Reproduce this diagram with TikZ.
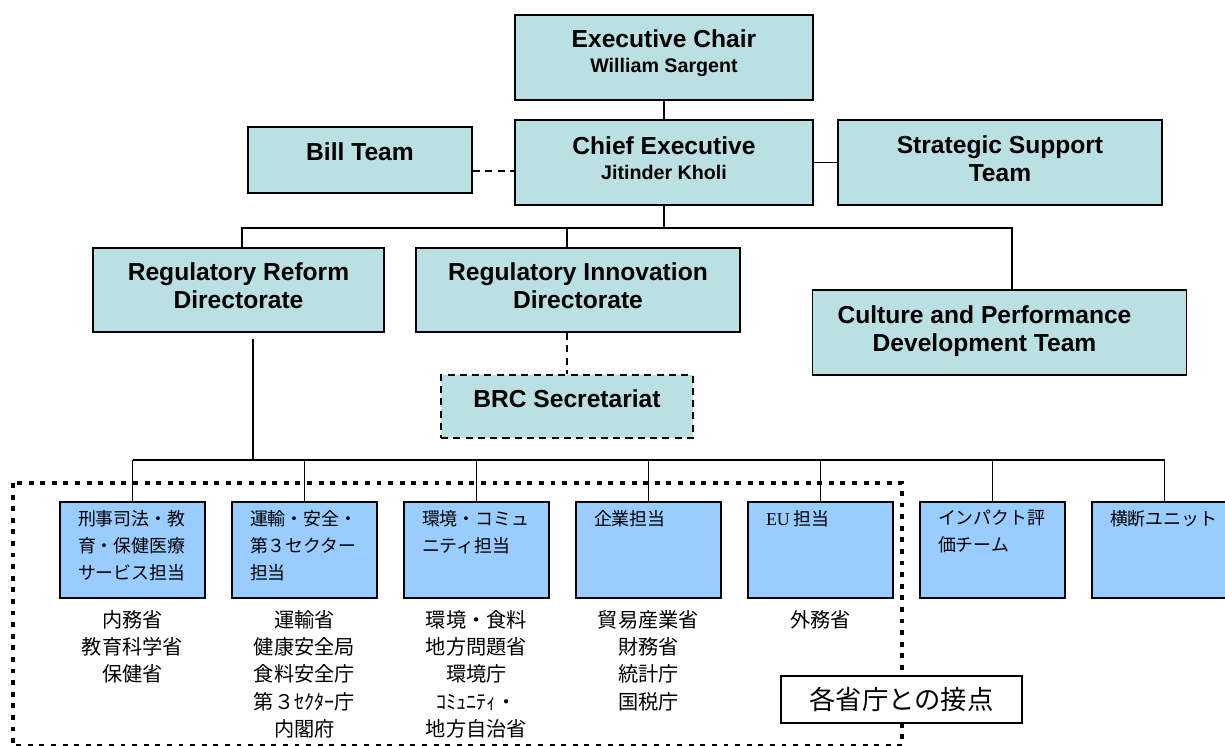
\documentclass[tikz,border=0pt]{standalone}
\usepackage{fontspec}
\setmainfont{Liberation Sans}
\newfontfamily\jp{Noto Sans CJK JP}
\newfontfamily\enserif{Liberation Serif}
\usetikzlibrary{positioning, calc}
\definecolor{orgteal}{RGB}{186,224,227}
\definecolor{unitblue}{RGB}{153,204,255}
\newcommand{\px}{0.02cm}

\begin{document}
\begin{tikzpicture}[x=0.02cm, y=-0.02cm, line width=1pt,
	org/.style={draw, fill=orgteal, line width=1.1pt, inner sep=0pt},
	orgtext/.style={align=center, inner sep=0pt, font=\bfseries\fontsize{14}{16}\selectfont},
	unit/.style={draw, fill=unitblue, minimum width=145*\px, minimum height=96*\px, inner sep=0pt},
	unittext/.style={anchor=north west, align=left, inner sep=0pt, font=\jp\fontsize{10.2}{15.4}\selectfont},
	ministry/.style={anchor=north, align=center, inner sep=0pt, font=\jp\fontsize{11.5}{15.4}\selectfont},
	dotframe/.style={line width=2.8pt, dash pattern=on 2.8pt off 3.8pt},
	linkdash/.style={dash pattern=on 4pt off 3pt}]
	\def\sub{\fontsize{11.2}{13}\selectfont}
	
	\useasboundingbox (0,0) rectangle (1225,746);
	\clip (0,0) rectangle (1225,746);
	
	% top management
	\node[org, minimum width=298*\px, minimum height=85*\px,
		label={[orgtext, name=chairtext, yshift=2.3pt]center:{Executive Chair\\[-1.6pt]{\sub William Sargent}}}] (chair) at (664,57.5) {};
	\node[org, minimum width=298*\px, minimum height=85*\px,
		label={[orgtext, name=chieftext, yshift=2.3pt]center:{Chief Executive\\[-1.6pt]{\sub Jitinder Kholi}}}] (chief) at (664,162.5) {};
	\node[org, minimum width=224*\px, minimum height=66*\px,
		label={[orgtext, name=billtext, yshift=4.6pt]center:{Bill Team}}] (bill) at (360,160) {};
	\node[org, minimum width=324*\px, minimum height=85*\px,
		label={[orgtext, name=strattext, yshift=2pt]center:{Strategic Support\\Team}}] (strat) at (1000,162.5) {};
	
	% directorates
	\node[org, minimum width=291*\px, minimum height=84*\px,
		label={[orgtext, name=reformtext, yshift=2.3pt]center:{Regulatory Reform\\Directorate}}] (reform) at (238.5,290) {};
	\node[org, minimum width=324*\px, minimum height=84*\px,
		label={[orgtext, name=innovtext, yshift=2.3pt]center:{Regulatory Innovation\\Directorate}}] (innov) at (578,290) {};
	\node[org, minimum width=374*\px, minimum height=85*\px,
		label={[orgtext, name=culturetext, xshift=-15*\px, yshift=1pt]center:{Culture and Performance\\Development Team}}] (culture) at (999.5,332.5) {};
	\node[org, linkdash, minimum width=252*\px, minimum height=63*\px,
		label={[orgtext, name=brctext, yshift=4.2pt]center:{BRC Secretariat}}] (brc) at (567,406.5) {};
	
	\draw (chair) -- (chief);
	\draw (chief.east) -- (strat.west);
	\coordinate (billtap) at ($(bill.east)+(0,11)$);
	\draw[linkdash] (billtap) -- (billtap -| chief.west);
	
	\coordinate (topbus) at (664,228);
	\draw (chief.south) -- (topbus);
	\draw ([xshift=3.5*\px]reform.north) |- (topbus);
	\draw (brc.north |- innov.north) -- (brc.north |- topbus);
	\draw (topbus) -| ([xshift=12.5*\px]culture.north);
	\draw[linkdash] (brc.north |- innov.south) -- (brc.north);
	
	% contact frame
	\draw[dotframe] (13,483) rectangle (902,746.5);
	
	% units
	\coordinate (reformtap) at (253,339);
	\coordinate (bus) at (253,460);
	\draw (reformtap) -- (bus);
	\foreach \i/\utext in {1/{刑事司法・教\\育・保健医療\\サービス担当},
		2/{運輸・安全・\\第３セクター\\担当},
		3/{環境・コミュ\\ニティ担当},
		4/{企業担当},
		5/{{\enserif EU} 担当},
		6/{インパクト評\\価チーム},
		7/{横断ユニット}}{
		\node[unit] (u\i) at (132.5+172*\i-172,550) {};
		\node[unittext] (ut\i) at ([xshift=18*\px, yshift=-8*\px]u\i.north west) {\utext};
		\draw (u\i.north) -- (u\i.north |- bus);
	}
	\draw (u1.north |- bus) -- (u7.north |- bus);
	
	% ministries
	\foreach \i/\mtext in {1/{内務省\\教育科学省\\保健省},
		2/{運輸省\\健康安全局\\食料安全庁\\第３ｾｸﾀｰ庁\\内閣府},
		3/{環境・食料\\地方問題省\\環境庁\\ｺﾐｭﾆﾃｨ・\\地方自治省},
		4/{貿易産業省\\財務省\\統計庁\\国税庁},
		5/{外務省}}{
		\node[ministry] (m\i) at (u\i.center |- 0,610) {\mtext};
	}
	
	\node[draw, fill=white, minimum width=241*\px, minimum height=47*\px, inner sep=0pt, font=\jp\fontsize{15}{18}\selectfont] (contact) at (901.5,699.5) {各省庁との接点};
\end{tikzpicture}
\end{document}
